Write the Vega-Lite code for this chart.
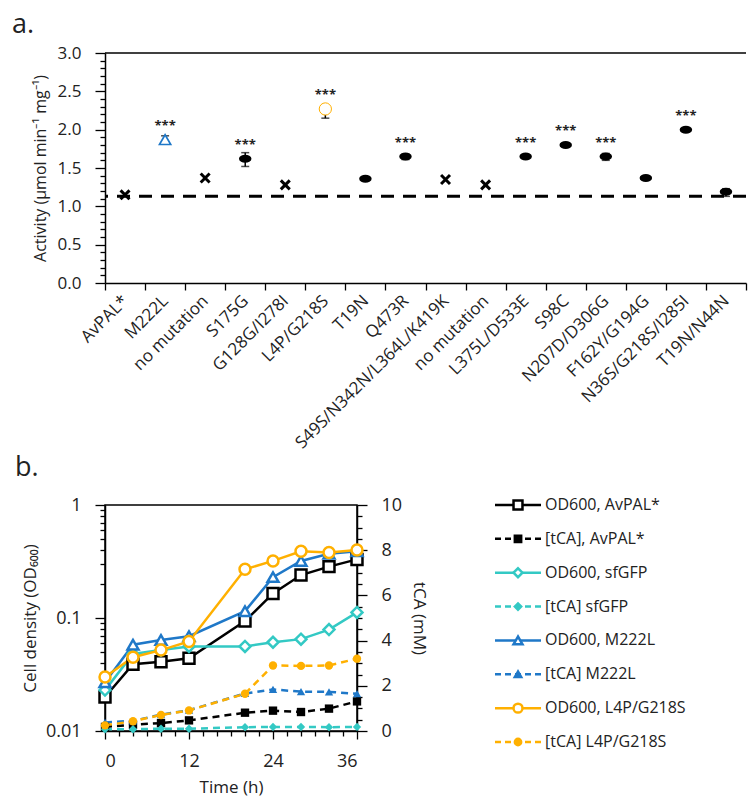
{
  "$schema": "https://vega.github.io/schema/vega-lite/v6.json",
  "padding": {"left": 12, "top": 11, "right": 3, "bottom": 2},
  "background": "white",
  "config": {
    "font": "Open Sans",
    "view": {"stroke": null},
    "axis": {
      "labelFont": "Open Sans", "titleFont": "Open Sans",
      "labelFontSize": 17, "titleFontSize": 16, "titleFontWeight": "normal",
      "labelColor": "#222", "titleColor": "#222",
      "domainColor": "black", "tickColor": "black",
      "domainWidth": 1.5, "tickWidth": 1.3, "grid": false
    },
    "title": {"font": "Open Sans", "fontWeight": "normal", "color": "#222", "fontSize": 27}
  },
  "datasets": {
    "act": [
      {"m": "AvPAL*", "v": 1.15, "k": "x"},
      {"m": "M222L", "v": 1.87, "lo": 1.84, "hi": 1.92, "k": "tri", "sig": "***"},
      {"m": "no mutation", "v": 1.37, "k": "x"},
      {"m": "S175G", "v": 1.62, "lo": 1.52, "hi": 1.70, "k": "dash", "sig": "***"},
      {"m": "G128G/I278I", "v": 1.28, "k": "x"},
      {"m": "L4P/G218S", "v": 2.27, "lo": 2.15, "hi": 2.30, "k": "circ", "sig": "***"},
      {"m": "T19N", "v": 1.36, "k": "dash"},
      {"m": "Q473R", "v": 1.65, "lo": 1.61, "hi": 1.68, "k": "dash", "sig": "***"},
      {"m": "S49S/N342N/L364L/K419K", "v": 1.35, "k": "x"},
      {"m": " no mutation", "v": 1.28, "k": "x"},
      {"m": "L375L/D533E", "v": 1.65, "lo": 1.63, "hi": 1.67, "k": "dash", "sig": "***"},
      {"m": "S98C", "v": 1.80, "k": "dash", "sig": "***"},
      {"m": "N207D/D306G", "v": 1.65, "lo": 1.60, "hi": 1.69, "k": "dash", "sig": "***"},
      {"m": "F162Y/G194G", "v": 1.37, "k": "dash"},
      {"m": "N36S/G218S/I285I", "v": 2.00, "k": "dash", "sig": "***"},
      {"m": "T19N/N44N", "v": 1.19, "lo": 1.13, "hi": 1.23, "k": "dash"}
    ],
    "od": [
      {"s": "AvPAL*", "t": 0, "v": 0.020}, {"s": "AvPAL*", "t": 4, "v": 0.039}, {"s": "AvPAL*", "t": 8, "v": 0.041},
      {"s": "AvPAL*", "t": 12, "v": 0.044}, {"s": "AvPAL*", "t": 20, "v": 0.094}, {"s": "AvPAL*", "t": 24, "v": 0.165},
      {"s": "AvPAL*", "t": 28, "v": 0.24}, {"s": "AvPAL*", "t": 32, "v": 0.285}, {"s": "AvPAL*", "t": 36, "v": 0.33},
      {"s": "sfGFP", "t": 0, "v": 0.023}, {"s": "sfGFP", "t": 4, "v": 0.048}, {"s": "sfGFP", "t": 8, "v": 0.052},
      {"s": "sfGFP", "t": 12, "v": 0.056}, {"s": "sfGFP", "t": 20, "v": 0.056}, {"s": "sfGFP", "t": 24, "v": 0.061},
      {"s": "sfGFP", "t": 28, "v": 0.065}, {"s": "sfGFP", "t": 32, "v": 0.079}, {"s": "sfGFP", "t": 36, "v": 0.112},
      {"s": "M222L", "t": 0, "v": 0.027}, {"s": "M222L", "t": 4, "v": 0.058}, {"s": "M222L", "t": 8, "v": 0.064},
      {"s": "M222L", "t": 12, "v": 0.069}, {"s": "M222L", "t": 20, "v": 0.115}, {"s": "M222L", "t": 24, "v": 0.23},
      {"s": "M222L", "t": 28, "v": 0.32}, {"s": "M222L", "t": 32, "v": 0.37}, {"s": "M222L", "t": 36, "v": 0.39},
      {"s": "L4P/G218S", "t": 0, "v": 0.030}, {"s": "L4P/G218S", "t": 4, "v": 0.045}, {"s": "L4P/G218S", "t": 8, "v": 0.052},
      {"s": "L4P/G218S", "t": 12, "v": 0.062}, {"s": "L4P/G218S", "t": 20, "v": 0.27}, {"s": "L4P/G218S", "t": 24, "v": 0.32},
      {"s": "L4P/G218S", "t": 28, "v": 0.39}, {"s": "L4P/G218S", "t": 32, "v": 0.38}, {"s": "L4P/G218S", "t": 36, "v": 0.40}
    ],
    "tca": [
      {"s": "AvPAL*", "t": 0, "v": 0.18}, {"s": "AvPAL*", "t": 4, "v": 0.28}, {"s": "AvPAL*", "t": 8, "v": 0.35},
      {"s": "AvPAL*", "t": 12, "v": 0.47}, {"s": "AvPAL*", "t": 20, "v": 0.81}, {"s": "AvPAL*", "t": 24, "v": 0.90},
      {"s": "AvPAL*", "t": 28, "v": 0.84}, {"s": "AvPAL*", "t": 32, "v": 0.99}, {"s": "AvPAL*", "t": 36, "v": 1.31},
      {"s": "sfGFP", "t": 0, "v": 0.08}, {"s": "sfGFP", "t": 4, "v": 0.08}, {"s": "sfGFP", "t": 8, "v": 0.10},
      {"s": "sfGFP", "t": 12, "v": 0.10}, {"s": "sfGFP", "t": 20, "v": 0.17}, {"s": "sfGFP", "t": 24, "v": 0.18},
      {"s": "sfGFP", "t": 28, "v": 0.18}, {"s": "sfGFP", "t": 32, "v": 0.17}, {"s": "sfGFP", "t": 36, "v": 0.18},
      {"s": "M222L", "t": 0, "v": 0.38}, {"s": "M222L", "t": 4, "v": 0.45}, {"s": "M222L", "t": 8, "v": 0.72},
      {"s": "M222L", "t": 12, "v": 0.92}, {"s": "M222L", "t": 20, "v": 1.66}, {"s": "M222L", "t": 24, "v": 1.84},
      {"s": "M222L", "t": 28, "v": 1.74}, {"s": "M222L", "t": 32, "v": 1.73}, {"s": "M222L", "t": 36, "v": 1.65},
      {"s": "L4P/G218S", "t": 0, "v": 0.25}, {"s": "L4P/G218S", "t": 4, "v": 0.43}, {"s": "L4P/G218S", "t": 8, "v": 0.71},
      {"s": "L4P/G218S", "t": 12, "v": 0.91}, {"s": "L4P/G218S", "t": 20, "v": 1.65}, {"s": "L4P/G218S", "t": 24, "v": 2.90},
      {"s": "L4P/G218S", "t": 28, "v": 2.88}, {"s": "L4P/G218S", "t": 32, "v": 2.90}, {"s": "L4P/G218S", "t": 36, "v": 3.20}
    ],
    "leg": [
      {"label": "OD600, AvPAL*", "s": "AvPAL*", "kind": "OD"},
      {"label": "[tCA], AvPAL*", "s": "AvPAL*", "kind": "tCA"},
      {"label": "OD600, sfGFP", "s": "sfGFP", "kind": "OD"},
      {"label": "[tCA] sfGFP", "s": "sfGFP", "kind": "tCA"},
      {"label": "OD600, M222L", "s": "M222L", "kind": "OD"},
      {"label": "[tCA] M222L", "s": "M222L", "kind": "tCA"},
      {"label": "OD600, L4P/G218S", "s": "L4P/G218S", "kind": "OD"},
      {"label": "[tCA] L4P/G218S", "s": "L4P/G218S", "kind": "tCA"}
    ]
  },
  "bounds": "flush",
  "spacing": 222,
  "resolve": {"scale": {"shape": "independent", "color": "independent", "fill": "independent", "stroke": "independent", "size": "independent", "strokeWidth": "independent", "strokeDash": "independent"}},
  "vconcat": [
    {
      "width": 641, "height": 230,
      "title": {"text": "a.", "anchor": "start", "frame": "group", "dx": -93, "offset": 5},
      "data": {"name": "act"},
      "layer": [
        {
          "data": {"values": [{}]},
          "mark": {"type": "rule", "color": "black", "strokeWidth": 1.5},
          "encoding": {"y": {"datum": 3, "type": "quantitative",
              "scale": {"domain": [0, 3], "nice": false},
              "axis": {
                "title": "Activity (µmol min⁻¹ mg⁻¹)",
                "values": [0, 0.1, 0.2, 0.3, 0.4, 0.5, 0.6, 0.7, 0.8, 0.9, 1, 1.1, 1.2, 1.3, 1.4, 1.5, 1.6, 1.7, 1.8, 1.9, 2, 2.1, 2.2, 2.3, 2.4, 2.5, 2.6, 2.7, 2.8, 2.9, 3],
                "labelExpr": "round(datum.value*10) % 5 == 0 ? format(datum.value, '.1f') : ''",
                "tickSize": {"condition": {"test": "round(datum.value*10) % 5 == 0", "value": 10}, "value": 5},
                "labelPadding": 14, "titlePadding": 9
              }}}
        },
        {
          "data": {"values": [{}]},
          "mark": {"type": "rule", "color": "black", "strokeWidth": 3, "strokeDash": [13, 9]},
          "encoding": {"y": {"datum": 1.13, "type": "quantitative",
              "scale": {"domain": [0, 3], "nice": false},
              "axis": {
                "title": "Activity (µmol min⁻¹ mg⁻¹)",
                "values": [0, 0.1, 0.2, 0.3, 0.4, 0.5, 0.6, 0.7, 0.8, 0.9, 1, 1.1, 1.2, 1.3, 1.4, 1.5, 1.6, 1.7, 1.8, 1.9, 2, 2.1, 2.2, 2.3, 2.4, 2.5, 2.6, 2.7, 2.8, 2.9, 3],
                "labelExpr": "round(datum.value*10) % 5 == 0 ? format(datum.value, '.1f') : ''",
                "tickSize": {"condition": {"test": "round(datum.value*10) % 5 == 0", "value": 10}, "value": 5},
                "labelPadding": 14, "titlePadding": 9
              }}}
        },
        {
          "transform": [{"filter": "isValid(datum.lo)"}],
          "encoding": {
            "x": {
              "field": "m", "type": "nominal",
              "scale": {
                "domain": ["AvPAL*", "M222L", "no mutation", "S175G", "G128G/I278I", "L4P/G218S", "T19N", "Q473R", "S49S/N342N/L364L/K419K", " no mutation", "L375L/D533E", "S98C", "N207D/D306G", "F162Y/G194G", "N36S/G218S/I285I", "T19N/N44N"],
                "paddingInner": 0, "paddingOuter": 0
              },
              "axis": {
                "title": null, "labelAngle": -45, "labelAlign": "right", "labelBaseline": "middle",
                "labelFontSize": 17, "tickBand": "extent", "tickSize": 7, "labelPadding": 8, "labelLimit": 400
              }
            }
          },
          "layer": [
            {
              "mark": {"type": "rule", "color": "black", "strokeWidth": 1.5},
              "encoding": {
                "y": {"field": "lo", "type": "quantitative",
                  "scale": {"domain": [0, 3], "nice": false},
                  "axis": {
                    "title": "Activity (µmol min⁻¹ mg⁻¹)",
                    "values": [0, 0.1, 0.2, 0.3, 0.4, 0.5, 0.6, 0.7, 0.8, 0.9, 1, 1.1, 1.2, 1.3, 1.4, 1.5, 1.6, 1.7, 1.8, 1.9, 2, 2.1, 2.2, 2.3, 2.4, 2.5, 2.6, 2.7, 2.8, 2.9, 3],
                    "labelExpr": "round(datum.value*10) % 5 == 0 ? format(datum.value, '.1f') : ''",
                    "tickSize": {"condition": {"test": "round(datum.value*10) % 5 == 0", "value": 10}, "value": 5},
                    "labelPadding": 14, "titlePadding": 9
                  }},
                "y2": {"field": "hi"}
              }
            },
            {
              "mark": {"type": "tick", "color": "black", "thickness": 1.5, "size": 8, "orient": "horizontal"},
              "encoding": {
                "y": {"field": "lo", "type": "quantitative",
                  "scale": {"domain": [0, 3], "nice": false},
                  "axis": {
                    "title": "Activity (µmol min⁻¹ mg⁻¹)",
                    "values": [0, 0.1, 0.2, 0.3, 0.4, 0.5, 0.6, 0.7, 0.8, 0.9, 1, 1.1, 1.2, 1.3, 1.4, 1.5, 1.6, 1.7, 1.8, 1.9, 2, 2.1, 2.2, 2.3, 2.4, 2.5, 2.6, 2.7, 2.8, 2.9, 3],
                    "labelExpr": "round(datum.value*10) % 5 == 0 ? format(datum.value, '.1f') : ''",
                    "tickSize": {"condition": {"test": "round(datum.value*10) % 5 == 0", "value": 10}, "value": 5},
                    "labelPadding": 14, "titlePadding": 9
                  }}
              }
            },
            {
              "mark": {"type": "tick", "color": "black", "thickness": 1.5, "size": 8, "orient": "horizontal"},
              "encoding": {
                "y": {"field": "hi", "type": "quantitative",
                  "scale": {"domain": [0, 3], "nice": false},
                  "axis": {
                    "title": "Activity (µmol min⁻¹ mg⁻¹)",
                    "values": [0, 0.1, 0.2, 0.3, 0.4, 0.5, 0.6, 0.7, 0.8, 0.9, 1, 1.1, 1.2, 1.3, 1.4, 1.5, 1.6, 1.7, 1.8, 1.9, 2, 2.1, 2.2, 2.3, 2.4, 2.5, 2.6, 2.7, 2.8, 2.9, 3],
                    "labelExpr": "round(datum.value*10) % 5 == 0 ? format(datum.value, '.1f') : ''",
                    "tickSize": {"condition": {"test": "round(datum.value*10) % 5 == 0", "value": 10}, "value": 5},
                    "labelPadding": 14, "titlePadding": 9
                  }}
              }
            }
          ]
        },
        {
          "mark": {"type": "point", "opacity": 1},
          "encoding": {
            "x": {
              "field": "m", "type": "nominal",
              "scale": {
                "domain": ["AvPAL*", "M222L", "no mutation", "S175G", "G128G/I278I", "L4P/G218S", "T19N", "Q473R", "S49S/N342N/L364L/K419K", " no mutation", "L375L/D533E", "S98C", "N207D/D306G", "F162Y/G194G", "N36S/G218S/I285I", "T19N/N44N"],
                "paddingInner": 0, "paddingOuter": 0
              },
              "axis": {
                "title": null, "labelAngle": -45, "labelAlign": "right", "labelBaseline": "middle",
                "labelFontSize": 17, "tickBand": "extent", "tickSize": 7, "labelPadding": 8, "labelLimit": 400
              }
            },
            "y": {
              "field": "v", "type": "quantitative",
              "scale": {"domain": [0, 3], "nice": false},
              "axis": {
                "title": "Activity (µmol min⁻¹ mg⁻¹)",
                "values": [0, 0.1, 0.2, 0.3, 0.4, 0.5, 0.6, 0.7, 0.8, 0.9, 1, 1.1, 1.2, 1.3, 1.4, 1.5, 1.6, 1.7, 1.8, 1.9, 2, 2.1, 2.2, 2.3, 2.4, 2.5, 2.6, 2.7, 2.8, 2.9, 3],
                "labelExpr": "round(datum.value*10) % 5 == 0 ? format(datum.value, '.1f') : ''",
                "tickSize": {"condition": {"test": "round(datum.value*10) % 5 == 0", "value": 10}, "value": 5},
                "labelPadding": 14, "titlePadding": 9
              }
            },
            "shape": {
              "field": "k", "type": "nominal", "legend": null,
              "scale": {"domain": ["x", "dash", "tri", "circ"], "range": ["M-1,-1L1,1M-1,1L1,-1", "M-1,0A1,0.55 0 1,0 1,0A1,0.55 0 1,0 -1,0Z", "triangle-up", "circle"]}
            },
            "stroke": {
              "field": "k", "type": "nominal", "legend": null,
              "scale": {"domain": ["x", "dash", "tri", "circ"], "range": ["black", "black", "#1f78c8", "#ffb000"]}
            },
            "fill": {
              "field": "k", "type": "nominal", "legend": null,
              "scale": {"domain": ["x", "dash", "tri", "circ"], "range": ["transparent", "black", "white", "white"]}
            },
            "size": {
              "field": "k", "type": "nominal", "legend": null,
              "scale": {"domain": ["x", "dash", "tri", "circ"], "range": [80, 150, 110, 170]}
            },
            "strokeWidth": {
              "field": "k", "type": "nominal", "legend": null,
              "scale": {"domain": ["x", "dash", "tri", "circ"], "range": [3, 1, 2.5, 3]}
            }
          }
        },
        {
          "transform": [{"filter": "isValid(datum.sig)"}],
          "mark": {"type": "text", "dy": -14, "fontSize": 13, "fontWeight": "bold", "color": "#222"},
          "encoding": {
            "x": {
              "field": "m", "type": "nominal",
              "scale": {
                "domain": ["AvPAL*", "M222L", "no mutation", "S175G", "G128G/I278I", "L4P/G218S", "T19N", "Q473R", "S49S/N342N/L364L/K419K", " no mutation", "L375L/D533E", "S98C", "N207D/D306G", "F162Y/G194G", "N36S/G218S/I285I", "T19N/N44N"],
                "paddingInner": 0, "paddingOuter": 0
              },
              "axis": {
                "title": null, "labelAngle": -45, "labelAlign": "right", "labelBaseline": "middle",
                "labelFontSize": 17, "tickBand": "extent", "tickSize": 7, "labelPadding": 8, "labelLimit": 400
              }
            },
            "y": {"field": "v", "type": "quantitative",
              "scale": {"domain": [0, 3], "nice": false},
              "axis": {
                "title": "Activity (µmol min⁻¹ mg⁻¹)",
                "values": [0, 0.1, 0.2, 0.3, 0.4, 0.5, 0.6, 0.7, 0.8, 0.9, 1, 1.1, 1.2, 1.3, 1.4, 1.5, 1.6, 1.7, 1.8, 1.9, 2, 2.1, 2.2, 2.3, 2.4, 2.5, 2.6, 2.7, 2.8, 2.9, 3],
                "labelExpr": "round(datum.value*10) % 5 == 0 ? format(datum.value, '.1f') : ''",
                "tickSize": {"condition": {"test": "round(datum.value*10) % 5 == 0", "value": 10}, "value": 5},
                "labelPadding": 14, "titlePadding": 9
              }},
            "text": {"field": "sig"}
          }
        }
      ]
    },
    {
      "bounds": "flush",
      "spacing": 138,
      "resolve": {"scale": {"shape": "independent", "color": "independent", "fill": "independent", "stroke": "independent", "size": "independent", "strokeDash": "independent"}},
      "hconcat": [
        {
          "width": 252, "height": 226,
          "title": {"text": "b.", "anchor": "start", "frame": "group", "dx": -90, "offset": 14},
          "view": {"stroke": "black", "strokeWidth": 1.5},
          "encoding": {
            "x": {
              "field": "t", "type": "quantitative",
              "scale": {"domain": [0, 36], "nice": false},
              "axis": {
                "title": "Time (h)",
                "values": [0, 2, 4, 6, 8, 10, 12, 14, 16, 18, 20, 22, 24, 26, 28, 30, 32, 34, 36],
                "labelExpr": "datum.value % 12 == 0 ? format(datum.value, 'd') : ''",
                "tickSize": {"condition": {"test": "datum.value % 12 == 0", "value": 8}, "value": 5},
                "labelFontSize": 18, "labelPadding": 13, "titlePadding": 9, "titleFontSize": 17
              }
            }
          },
          "layer": [
            {
              "data": {"name": "od"},
              "encoding": {
                "y": {
                  "field": "v", "type": "quantitative",
                  "scale": {"type": "log", "domain": [0.01, 1]},
                  "axis": {
                    "orient": "left",
                    "title": "Cell density (OD₆₀₀)",
                    "values": [0.01, 0.02, 0.03, 0.04, 0.05, 0.06, 0.07, 0.08, 0.09, 0.1, 0.2, 0.3, 0.4, 0.5, 0.6, 0.7, 0.8, 0.9, 1],
                    "labelExpr": "datum.value == 1 ? '1' : datum.value == 0.1 ? '0.1' : datum.value == 0.01 ? '0.01' : ''",
                    "tickSize": {"condition": {"test": "datum.value == 1 || datum.value == 0.1 || datum.value == 0.01", "value": 10}, "value": 5},
                    "labelFontSize": 18, "labelPadding": 14, "titlePadding": 6, "titleFontSize": 17
                  }
                }
              },
              "layer": [
                {
                  "mark": {"type": "line", "strokeWidth": 2.5},
                  "encoding": {
                    "color": {"field": "s", "type": "nominal", "legend": null, "scale": {"domain": ["AvPAL*", "sfGFP", "M222L", "L4P/G218S"], "range": ["black", "#33c9c4", "#1f78c8", "#ffb000"]}}
                  }
                },
                {
                  "mark": {"type": "point", "fill": "white", "strokeWidth": 2.5, "opacity": 1, "size": 120},
                  "encoding": {
                    "stroke": {"field": "s", "type": "nominal", "legend": null, "scale": {"domain": ["AvPAL*", "sfGFP", "M222L", "L4P/G218S"], "range": ["black", "#33c9c4", "#1f78c8", "#ffb000"]}},
                    "shape": {"field": "s", "type": "nominal", "legend": null, "scale": {"domain": ["AvPAL*", "sfGFP", "M222L", "L4P/G218S"], "range": ["square", "diamond", "triangle-up", "circle"]}}
                  }
                }
              ]
            },
            {
              "data": {"name": "tca"},
              "encoding": {
                "y": {
                  "field": "v", "type": "quantitative",
                  "scale": {"domain": [0, 10], "nice": false},
                  "axis": {
                    "orient": "right",
                    "title": "tCA (mM)",
                    "values": [0, 0.5, 1, 1.5, 2, 2.5, 3, 3.5, 4, 4.5, 5, 5.5, 6, 6.5, 7, 7.5, 8, 8.5, 9, 9.5, 10],
                    "labelExpr": "datum.value % 2 == 0 ? format(datum.value, 'd') : ''",
                    "tickSize": {"condition": {"test": "datum.value % 2 == 0", "value": 10}, "value": 5},
                    "labelFontSize": 18, "labelPadding": 14, "titlePadding": 8, "titleFontSize": 17
                  }
                }
              },
              "layer": [
                {
                  "mark": {"type": "line", "strokeWidth": 2.5, "strokeDash": [7, 5]},
                  "encoding": {
                    "color": {"field": "s", "type": "nominal", "legend": null, "scale": {"domain": ["AvPAL*", "sfGFP", "M222L", "L4P/G218S"], "range": ["black", "#33c9c4", "#1f78c8", "#ffb000"]}}
                  }
                },
                {
                  "mark": {"type": "point", "filled": true, "opacity": 1, "size": 70},
                  "encoding": {
                    "color": {"field": "s", "type": "nominal", "legend": null, "scale": {"domain": ["AvPAL*", "sfGFP", "M222L", "L4P/G218S"], "range": ["black", "#33c9c4", "#1f78c8", "#ffb000"]}},
                    "shape": {"field": "s", "type": "nominal", "legend": null, "scale": {"domain": ["AvPAL*", "sfGFP", "M222L", "L4P/G218S"], "range": ["square", "diamond", "triangle-up", "circle"]}}
                  }
                }
              ]
            }
          ],
          "resolve": {"scale": {"y": "independent"}}
        },
        {
          "width": 210, "height": 237,
          "data": {"name": "leg"},
          "encoding": {
            "y": {"field": "label", "type": "nominal", "sort": null, "scale": {"type": "point", "padding": 0}, "axis": null}
          },
          "layer": [
            {
              "mark": {"type": "rule", "strokeWidth": 2.5},
              "encoding": {
                "x": {"datum": 0, "type": "quantitative", "scale": {"domain": [0, 210], "nice": false, "zero": false}, "axis": null},
                "x2": {"datum": 46},
                "color": {"field": "s", "type": "nominal", "legend": null, "scale": {"domain": ["AvPAL*", "sfGFP", "M222L", "L4P/G218S"], "range": ["black", "#33c9c4", "#1f78c8", "#ffb000"]}},
                "strokeDash": {"field": "kind", "type": "nominal", "legend": null, "scale": {"domain": ["OD", "tCA"], "range": [[1, 0], [6, 4]]}}
              }
            },
            {
              "mark": {"type": "point", "strokeWidth": 2.5, "opacity": 1},
              "encoding": {
                "x": {"datum": 23, "type": "quantitative"},
                "stroke": {"field": "s", "type": "nominal", "legend": null, "scale": {"domain": ["AvPAL*", "sfGFP", "M222L", "L4P/G218S"], "range": ["black", "#33c9c4", "#1f78c8", "#ffb000"]}},
                "fill": {
                  "condition": {"test": "datum.kind == 'OD'", "value": "white"},
                  "field": "s", "type": "nominal", "legend": null,
                  "scale": {"domain": ["AvPAL*", "sfGFP", "M222L", "L4P/G218S"], "range": ["black", "#33c9c4", "#1f78c8", "#ffb000"]}
                },
                "shape": {"field": "s", "type": "nominal", "legend": null, "scale": {"domain": ["AvPAL*", "sfGFP", "M222L", "L4P/G218S"], "range": ["square", "diamond", "triangle-up", "circle"]}},
                "size": {"field": "kind", "type": "nominal", "legend": null, "scale": {"domain": ["OD", "tCA"], "range": [80, 40]}}
              }
            },
            {
              "mark": {"type": "text", "align": "left", "baseline": "middle", "fontSize": 16, "font": "Open Sans", "color": "#222"},
              "encoding": {
                "x": {"datum": 50, "type": "quantitative"},
                "text": {"field": "label"}
              }
            }
          ]
        }
      ]
    }
  ]
}
